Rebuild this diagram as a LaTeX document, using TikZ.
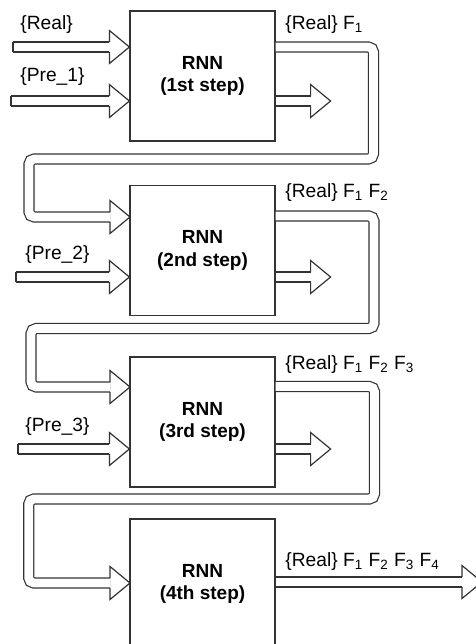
\documentclass[tikz,border=0pt]{standalone}
\usepackage{fontspec}
\setmainfont{Liberation Sans}
\usetikzlibrary{calc,positioning}
\tikzset{
	rnnbox/.style={
		rectangle,
		draw=black!80, line width=0.6pt,
		minimum width=72.5pt,
		minimum height=65pt,
		inner sep=0pt,
		align=center,
		font=\fontsize{9.5}{11.4}\selectfont\bfseries},
	fatline/.style={
		draw=black!80, line width=0.6pt,
		double=white, double distance=4.4pt,
		rounded corners=2.6pt},
	headline/.style={draw=black!80, line width=0.6pt},
	lbl/.style={
		font=\fontsize{9.6}{11.5}\selectfont,
		inner sep=0pt, anchor=west},
}
% hollow head ending at the tip #1, pointing right
\newcommand{\fathead}[1]{%
	\draw[headline] ($(#1)+(-20,5)$) -- ($(#1)+(-20,16.5)$) -- (#1)
		-- ($(#1)+(-20,-16.5)$) -- ($(#1)+(-20,-5)$);}
% closed end of a shaft
\newcommand{\fattail}[1]{%
	\draw[headline] ($(#1)+(0,5)$) -- ($(#1)+(0,-5)$);}

\begin{document}
\begin{tikzpicture}
[x=0.5pt, y=-0.5pt]
\clip (0,0) rectangle (476,644);
\node[rnnbox] (rnn1) at (202.5,76) {RNN\\(1st step)};
\node[rnnbox] (rnn2) at (202.5,250.5) {RNN\\(2nd step)};
\node[rnnbox] (rnn3) at (202.5,422) {RNN\\(3rd step)};
\node[rnnbox] (rnn4) at (202.5,584) {RNN\\(4th step)};

\coordinate (real0) at (13,47);
\coordinate (pre1) at (11,101);
\coordinate (pre2) at (16,277);
\coordinate (pre3) at (18,449);
\coordinate (in1) at (rnn1.west |- real0);
\coordinate (in2) at (130,217);
\coordinate (in3) at (130,387);
\coordinate (in4) at (130,583);

% step 1
\draw[fatline] (real0) -- ($(in1)+(-20,0)$);
\fattail{real0}\fathead{in1}
\draw[fatline] (pre1) -- ($(rnn1.west |- pre1)+(-20,0)$);
\fattail{pre1}\fathead{rnn1.west |- pre1}
\coordinate (out1) at ($(rnn1.east |- pre1)+(55,0)$);
\draw[fatline] (rnn1.east |- pre1) -- ($(out1)+(-20,0)$);
\fathead{out1}
\draw[fatline] (rnn1.east |- in1) -- (373.5,47) -- (373.5,159)
	-- (29,159) -- (29,217) -- ($(in2)+(-20,0)$);
\fathead{in2}

% step 2
\draw[fatline] (pre2) -- ($(rnn2.west |- pre2)+(-20,0)$);
\fattail{pre2}\fathead{rnn2.west |- pre2}
\coordinate (out2) at ($(rnn2.east |- pre2)+(55,0)$);
\draw[fatline] (rnn2.east |- pre2) -- ($(out2)+(-20,0)$);
\fathead{out2}
\draw[fatline] (rnn2.east |- 0,216) -- (374,216) -- (374,328.5)
	-- (31,328.5) -- (31,387) -- ($(in3)+(-20,0)$);
\fathead{in3}

% step 3
\draw[fatline] (pre3) -- ($(rnn3.west |- pre3)+(-20,0)$);
\fattail{pre3}\fathead{rnn3.west |- pre3}
\coordinate (out3) at ($(rnn3.east |- pre3)+(55,0)$);
\draw[fatline] (rnn3.east |- pre3) -- ($(out3)+(-20,0)$);
\fathead{out3}
\draw[fatline] (rnn3.east |- 0,386.5) -- (374.5,386.5) -- (374.5,499)
	-- (28.7,499) -- (28.7,583) -- ($(in4)+(-20,0)$);
\fathead{in4}

% step 4
\coordinate (out4) at (482,582);
\draw[fatline] (rnn4.east |- out4) -- ($(out4)+(-20,0)$);
\fathead{out4}

\node[lbl] (lreal) at (20,25) {\{Real\}};
\node[lbl] (lpre1) at (20,77) {\{Pre\_1\}};
\node[lbl] (lpre2) at (25,255) {\{Pre\_2\}};
\node[lbl] (lpre3) at (25,427) {\{Pre\_3\}};
\node[lbl] (lf1) at (285,25) {\{Real\} F\textsubscript{1}};
\node[lbl] (lf2) at (285,193) {\{Real\} F\textsubscript{1} F\textsubscript{2}};
\node[lbl] (lf3) at (285,365) {\{Real\} F\textsubscript{1} F\textsubscript{2} F\textsubscript{3}};
\node[lbl] (lf4) at (285,562) {\{Real\} F\textsubscript{1} F\textsubscript{2} F\textsubscript{3} F\textsubscript{4}};
\end{tikzpicture}
\end{document}
